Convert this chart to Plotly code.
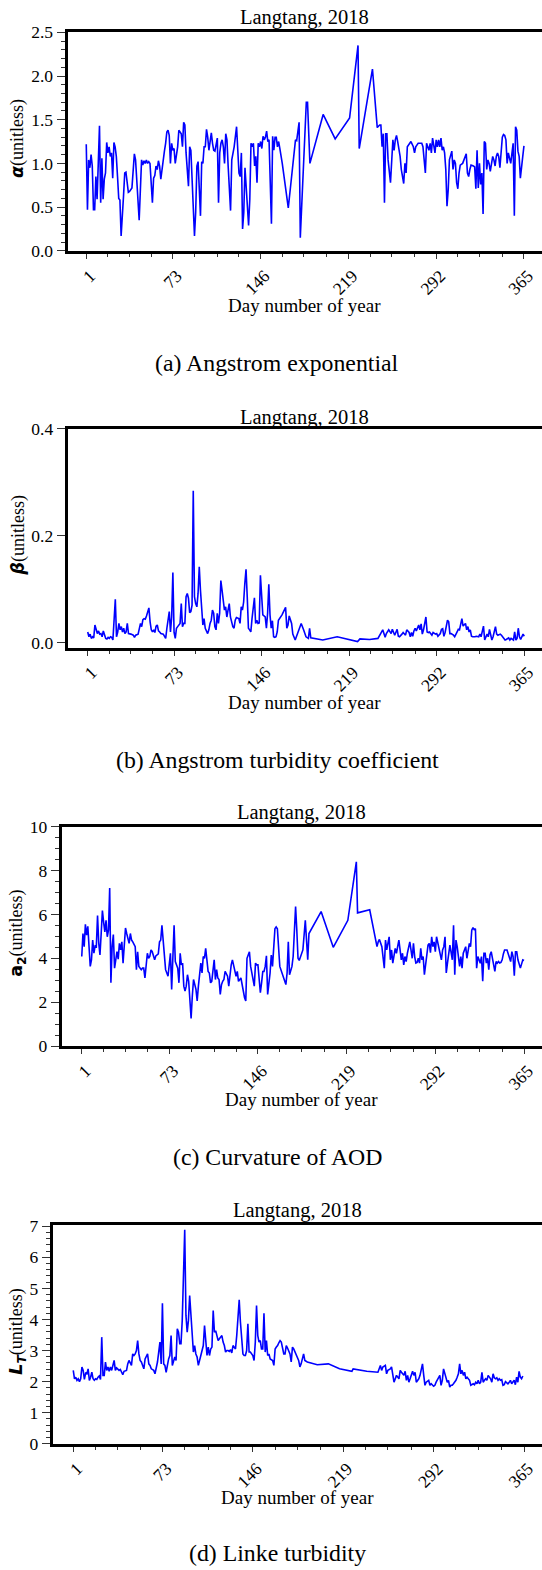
import plotly.graph_objects as go

W, H = 542, 1570
FONT = "Liberation Serif"
SANS = "DejaVu Sans"

# ---------------- data ----------------
day_ticks = [1, 73, 146, 219, 292, 365]
day_tick_text = ["1", "73", "146", "219", "292", "365"]
day_minor = [19, 37, 55, 91, 110, 128, 164, 182, 201, 237, 255, 274, 310, 328, 347]

# (a) Angstrom exponential
days_a = [1, 2, 3, 4, 5, 6, 7, 8, 9, 10,
          11, 12, 13, 14, 15, 16, 17, 18, 19, 20,
          21, 22, 23, 24, 25, 26, 27, 28, 29, 30,
          32, 33, 34, 36, 37, 39, 41, 42, 45, 47,
          48, 49, 50, 51, 52, 53, 54, 56, 57, 58,
          59, 60, 61, 62, 63, 64, 65, 66, 67, 68,
          69, 70, 71, 72, 73, 74, 75, 76, 77, 78,
          80, 81, 82, 83, 84, 86, 87, 88, 89, 91,
          92, 93, 94, 96, 97, 98, 99, 100, 101, 102,
          103, 104, 105, 106, 107, 108, 110, 111, 112, 113,
          114, 115, 116, 117, 118, 119, 121, 122, 124, 126,
          127, 128, 129, 130, 131, 132, 133, 134, 136, 137,
          138, 139, 140, 141, 142, 143, 144, 145, 146, 147,
          148, 149, 150, 151, 152, 153, 155, 156, 157, 158,
          159, 160, 161, 162, 164, 169, 172, 175, 176, 178,
          179, 184, 185, 187, 198, 208, 220, 227, 228, 239,
          243, 245, 246, 247, 248, 249, 250, 251, 252, 254,
          256, 257, 258, 259, 260, 262, 263, 265, 266, 267,
          268, 270, 271, 273, 274, 275, 277, 278, 280, 281,
          283, 284, 286, 287, 288, 289, 291, 292, 293, 294,
          295, 296, 297, 298, 299, 300, 301, 302, 303, 305,
          306, 307, 308, 309, 310, 311, 312, 314, 315, 316,
          317, 318, 319, 320, 321, 323, 324, 325, 326, 327,
          328, 329, 330, 331, 332, 333, 334, 335, 336, 337,
          339, 340, 341, 342, 343, 344, 345, 347, 348, 349,
          350, 351, 352, 354, 355, 356, 357, 358, 359, 360,
          361, 362, 364, 365]
alpha = [1.22, 0.47, 1.04, 0.95, 1.10, 0.97, 0.47, 0.47, 0.85, 0.59,
         1.00, 1.43, 0.55, 1.06, 0.59, 0.82, 0.89, 1.24, 1.12, 1.19,
         1.08, 1.12, 0.83, 1.24, 1.19, 1.08, 0.85, 0.60, 0.58, 0.17,
         0.63, 0.89, 0.90, 0.67, 0.68, 0.72, 1.11, 1.04, 0.35, 1.04,
         0.98, 1.03, 1.00, 1.04, 1.00, 1.02, 1.00, 0.55, 0.83, 0.86,
         0.97, 0.93, 1.03, 0.97, 0.82, 0.95, 1.04, 1.14, 1.23, 1.36,
         1.38, 1.32, 1.00, 1.23, 1.15, 1.17, 1.00, 1.08, 1.19, 1.38,
         1.34, 1.19, 1.47, 1.44, 1.12, 0.74, 1.19, 1.15, 0.78, 0.17,
         0.44, 0.97, 1.02, 0.40, 1.02, 1.00, 1.19, 1.19, 1.39, 1.30,
         1.15, 1.27, 1.35, 1.23, 1.15, 1.14, 1.29, 0.55, 1.12, 1.23,
         1.27, 1.19, 1.00, 1.34, 1.27, 0.97, 0.46, 1.04, 1.19, 1.42,
         1.08, 0.89, 0.85, 1.12, 0.25, 0.44, 0.95, 0.68, 0.29, 0.59,
         1.23, 1.19, 1.23, 0.97, 1.08, 0.78, 1.23, 1.19, 1.25, 1.17,
         1.31, 1.27, 1.30, 1.37, 1.25, 1.27, 0.31, 1.31, 1.15, 1.30,
         1.30, 1.19, 1.25, 1.17, 1.00, 0.49, 0.89, 1.27, 1.26, 1.47,
         0.15, 1.70, 1.70, 1.00, 1.56, 1.28, 1.52, 2.35, 1.17, 2.08,
         1.41, 1.44, 1.44, 1.19, 1.34, 0.55, 1.34, 1.34, 1.04, 0.78,
         1.27, 1.15, 1.27, 1.32, 1.25, 1.08, 0.93, 0.77, 1.00, 0.89,
         1.19, 1.23, 1.25, 1.19, 1.12, 1.19, 1.23, 1.23, 1.23, 1.19,
         0.89, 1.23, 1.15, 1.23, 1.12, 1.29, 1.12, 1.27, 1.19, 1.27,
         1.19, 1.29, 1.15, 1.19, 1.12, 0.93, 0.51, 0.70, 1.04, 1.14,
         0.93, 1.04, 1.00, 0.78, 0.71, 0.89, 0.98, 1.00, 1.04, 1.08,
         1.11, 0.89, 0.85, 0.93, 0.98, 0.97, 0.96, 0.71, 1.15, 0.72,
         1.00, 0.76, 0.89, 0.42, 1.25, 1.23, 0.93, 1.04, 1.00, 0.91,
         1.08, 1.04, 0.97, 1.08, 1.12, 1.08, 0.95, 1.30, 1.33, 1.32,
         1.27, 1.00, 1.12, 1.00, 1.14, 1.23, 0.40, 1.42, 1.38, 1.14,
         1.08, 0.83, 1.08, 1.20]

# (b) Angstrom turbidity coefficient
days_b = [1, 2, 3, 4, 5, 6, 7, 8, 9, 10,
          11, 12, 13, 14, 16, 17, 18, 19, 20, 21,
          22, 24, 25, 26, 27, 28, 29, 30, 31, 32,
          33, 34, 35, 37, 39, 40, 41, 43, 45, 46,
          47, 48, 49, 50, 52, 53, 54, 55, 56, 57,
          58, 59, 60, 61, 62, 64, 65, 66, 67, 68,
          69, 70, 71, 72, 73, 74, 75, 76, 78, 79,
          80, 81, 82, 83, 84, 85, 86, 87, 88, 89,
          90, 91, 92, 93, 94, 95, 96, 97, 98, 99,
          101, 102, 103, 104, 105, 106, 107, 108, 109, 110,
          111, 112, 113, 115, 116, 117, 118, 119, 120, 121,
          122, 123, 124, 125, 127, 128, 129, 130, 131, 132,
          133, 134, 135, 136, 137, 138, 140, 141, 142, 143,
          144, 145, 146, 147, 149, 150, 151, 152, 153, 154,
          155, 156, 157, 158, 159, 160, 163, 166, 167, 168,
          169, 171, 172, 174, 179, 180, 181, 183, 185, 186,
          187, 197, 209, 226, 228, 236, 243, 247, 249, 250,
          252, 254, 255, 257, 259, 260, 261, 263, 264, 266,
          267, 269, 270, 271, 272, 273, 274, 275, 277, 278,
          279, 280, 281, 283, 284, 285, 286, 288, 289, 291,
          292, 293, 295, 296, 297, 298, 299, 301, 302, 303,
          304, 306, 307, 309, 310, 311, 313, 314, 316, 317,
          318, 319, 320, 321, 322, 324, 325, 327, 328, 329,
          331, 332, 334, 335, 336, 338, 339, 341, 342, 343,
          345, 346, 347, 349, 350, 352, 353, 354, 356, 357,
          358, 359, 360, 361, 362, 364, 365]
beta = [0.020, 0.011, 0.016, 0.008, 0.011, 0.009, 0.033, 0.024, 0.017, 0.022,
        0.016, 0.017, 0.011, 0.022, 0.008, 0.007, 0.010, 0.008, 0.011, 0.010,
        0.005, 0.081, 0.011, 0.020, 0.036, 0.024, 0.030, 0.020, 0.027, 0.017,
        0.020, 0.036, 0.017, 0.016, 0.014, 0.010, 0.014, 0.016, 0.036, 0.030,
        0.043, 0.045, 0.044, 0.050, 0.065, 0.039, 0.024, 0.020, 0.024, 0.019,
        0.031, 0.033, 0.022, 0.020, 0.017, 0.016, 0.013, 0.008, 0.027, 0.039,
        0.058, 0.020, 0.048, 0.131, 0.019, 0.008, 0.027, 0.030, 0.036, 0.073,
        0.030, 0.036, 0.036, 0.086, 0.092, 0.083, 0.056, 0.058, 0.070, 0.284,
        0.086, 0.073, 0.067, 0.092, 0.142, 0.098, 0.061, 0.033, 0.045, 0.027,
        0.017, 0.024, 0.036, 0.042, 0.061, 0.055, 0.030, 0.024, 0.055, 0.036,
        0.055, 0.116, 0.098, 0.061, 0.067, 0.048, 0.061, 0.073, 0.048, 0.036,
        0.030, 0.027, 0.042, 0.047, 0.045, 0.036, 0.067, 0.061, 0.076, 0.111,
        0.137, 0.086, 0.027, 0.024, 0.020, 0.045, 0.084, 0.036, 0.042, 0.036,
        0.037, 0.126, 0.092, 0.052, 0.048, 0.027, 0.055, 0.109, 0.052, 0.027,
        0.041, 0.011, 0.010, 0.011, 0.020, 0.042, 0.052, 0.066, 0.027, 0.033,
        0.050, 0.036, 0.016, 0.005, 0.036, 0.031, 0.024, 0.011, 0.008, 0.027,
        0.009, 0.005, 0.011, 0.002, 0.007, 0.006, 0.008, 0.024, 0.010, 0.017,
        0.024, 0.017, 0.025, 0.014, 0.025, 0.012, 0.011, 0.016, 0.019, 0.014,
        0.024, 0.019, 0.011, 0.019, 0.012, 0.022, 0.027, 0.022, 0.033, 0.024,
        0.035, 0.016, 0.024, 0.048, 0.020, 0.019, 0.020, 0.014, 0.019, 0.016,
        0.017, 0.012, 0.017, 0.025, 0.026, 0.012, 0.019, 0.042, 0.039, 0.017,
        0.017, 0.014, 0.011, 0.020, 0.025, 0.024, 0.045, 0.031, 0.036, 0.024,
        0.030, 0.020, 0.024, 0.012, 0.011, 0.011, 0.012, 0.011, 0.016, 0.011,
        0.031, 0.005, 0.016, 0.011, 0.025, 0.005, 0.011, 0.030, 0.016, 0.014,
        0.016, 0.014, 0.011, 0.005, 0.006, 0.009, 0.005, 0.008, 0.005, 0.020,
        0.005, 0.008, 0.027, 0.011, 0.006, 0.016, 0.012]

# (c) Curvature of AOD
days_c = [1, 2, 3, 4, 5, 6, 7, 8, 9, 10,
          11, 12, 13, 14, 15, 16, 17, 18, 19, 20,
          21, 22, 23, 24, 25, 26, 27, 28, 29, 30,
          31, 32, 33, 34, 35, 36, 37, 38, 39, 40,
          41, 42, 43, 44, 45, 46, 47, 48, 50, 51,
          52, 53, 54, 55, 56, 57, 58, 59, 61, 62,
          63, 64, 65, 66, 67, 68, 69, 70, 72, 73,
          74, 75, 76, 77, 78, 79, 80, 81, 82, 83,
          84, 85, 86, 87, 88, 89, 91, 92, 93, 95,
          96, 97, 98, 99, 100, 101, 102, 103, 104, 105,
          106, 107, 108, 110, 111, 112, 113, 114, 115, 116,
          117, 118, 119, 121, 122, 123, 124, 125, 126, 127,
          128, 129, 130, 132, 133, 134, 135, 136, 137, 138,
          139, 140, 141, 143, 144, 145, 146, 147, 148, 149,
          150, 151, 152, 153, 154, 156, 157, 158, 159, 160,
          161, 162, 164, 166, 168, 169, 170, 171, 172, 174,
          175, 176, 177, 178, 179, 180, 183, 185, 187, 188,
          198, 208, 220, 227, 228, 238, 244, 245, 246, 248,
          250, 251, 252, 253, 254, 255, 256, 257, 259, 260,
          262, 263, 264, 265, 266, 267, 268, 269, 270, 271,
          273, 274, 275, 276, 277, 278, 279, 280, 281, 282,
          283, 285, 286, 287, 288, 289, 290, 291, 292, 293,
          295, 296, 297, 298, 299, 300, 301, 302, 303, 304,
          306, 307, 308, 309, 310, 311, 312, 313, 314, 315,
          317, 318, 319, 320, 321, 322, 323, 324, 325, 326,
          327, 329, 330, 331, 332, 333, 334, 335, 336, 337,
          338, 340, 341, 342, 343, 344, 345, 346, 347, 348,
          349, 351, 352, 353, 354, 355, 356, 357, 358, 359,
          360, 362, 363, 364, 365]
a2 = [4.08, 5.13, 4.53, 5.55, 5.05, 5.46, 4.53, 3.63, 3.93, 4.83,
      4.23, 4.56, 4.53, 5.95, 4.68, 4.15, 5.13, 6.18, 5.65, 5.20,
      5.73, 4.98, 5.28, 7.20, 2.88, 4.53, 5.08, 3.55, 3.93, 4.30,
      3.96, 4.68, 4.38, 4.75, 3.78, 4.83, 5.38, 5.13, 4.83, 4.68,
      5.13, 4.83, 4.75, 4.60, 4.53, 3.48, 4.30, 3.63, 3.48, 3.55,
      3.55, 3.10, 3.78, 4.23, 4.00, 4.08, 4.38, 4.30, 3.93, 4.11,
      4.15, 4.20, 4.75, 4.83, 5.50, 4.83, 3.78, 3.48, 3.18, 3.93,
      4.23, 2.58, 4.53, 5.50, 3.85, 3.70, 3.55, 2.88, 4.23, 3.70,
      3.78, 2.73, 2.50, 2.73, 3.25, 2.95, 1.26, 2.28, 3.03, 2.58,
      2.05, 2.73, 3.25, 3.78, 3.33, 4.08, 4.00, 4.45, 3.93, 3.40,
      3.33, 2.88, 2.95, 3.93, 3.03, 3.48, 3.10, 3.03, 2.35, 2.80,
      2.95, 3.03, 3.40, 3.18, 2.73, 3.33, 3.70, 3.93, 3.63, 3.33,
      3.18, 3.40, 2.95, 3.10, 2.73, 2.58, 2.20, 2.05, 4.00, 4.15,
      4.30, 3.63, 3.33, 2.73, 3.78, 3.70, 3.70, 2.80, 2.43, 2.88,
      3.40, 3.40, 3.63, 4.11, 2.35, 3.33, 4.15, 3.63, 4.68, 5.35,
      5.43, 5.35, 3.63, 3.33, 3.03, 2.80, 3.33, 4.75, 3.25, 3.63,
      4.08, 4.98, 6.36, 5.28, 4.00, 3.90, 4.38, 5.73, 3.93, 5.13,
      6.13, 4.50, 5.73, 8.40, 6.07, 6.21, 4.53, 4.75, 4.86, 4.53,
      3.55, 4.83, 4.38, 4.68, 4.98, 3.93, 4.38, 3.78, 4.45, 4.23,
      4.83, 4.38, 3.93, 4.23, 3.70, 4.08, 3.85, 4.23, 4.53, 4.75,
      4.00, 4.68, 4.08, 3.78, 3.81, 4.00, 3.78, 4.45, 3.93, 4.08,
      3.25, 4.23, 4.60, 4.68, 4.26, 4.98, 4.53, 4.75, 4.30, 4.98,
      4.38, 4.23, 3.93, 4.38, 4.53, 4.98, 3.33, 3.78, 4.23, 4.60,
      3.93, 5.50, 3.25, 4.83, 4.53, 4.08, 3.63, 4.08, 3.55, 4.23,
      4.53, 4.00, 4.38, 4.68, 4.53, 5.28, 5.40, 5.31, 5.35, 3.55,
      4.08, 3.78, 4.08, 2.95, 4.23, 4.23, 3.78, 4.00, 3.48, 4.15,
      4.30, 3.78, 3.40, 3.85, 3.78, 3.85, 3.78, 3.81, 3.93, 4.20,
      4.38, 4.38, 4.23, 4.08, 3.85, 4.30, 4.08, 3.21, 4.30, 4.30,
      3.93, 3.55, 3.70, 3.93, 3.90]

# (d) Linke turbidity
days_d = [1, 2, 3, 4, 5, 6, 7, 8, 9, 10,
          11, 12, 13, 14, 15, 16, 17, 18, 19, 20,
          21, 22, 23, 24, 25, 26, 27, 28, 29, 30,
          31, 32, 34, 35, 36, 37, 38, 39, 40, 41,
          42, 43, 44, 45, 46, 48, 49, 50, 51, 52,
          53, 54, 55, 56, 57, 58, 59, 60, 61, 62,
          63, 64, 66, 67, 68, 69, 70, 71, 72, 73,
          74, 75, 76, 77, 78, 79, 80, 81, 83, 84,
          85, 86, 87, 88, 89, 91, 92, 93, 94, 95,
          96, 97, 98, 99, 100, 101, 102, 104, 105, 106,
          107, 108, 109, 110, 111, 112, 113, 114, 115, 116,
          118, 119, 120, 121, 122, 123, 124, 125, 126, 127,
          128, 129, 130, 132, 133, 134, 135, 136, 137, 138,
          139, 140, 141, 142, 143, 144, 146, 147, 148, 149,
          150, 151, 152, 153, 154, 155, 156, 157, 158, 159,
          160, 161, 162, 163, 164, 165, 166, 167, 168, 169,
          171, 172, 173, 174, 175, 176, 177, 178, 179, 180,
          181, 183, 184, 185, 187, 188, 190, 198, 207, 216,
          226, 227, 238, 247, 249, 250, 251, 253, 254, 255,
          257, 258, 260, 261, 262, 264, 265, 266, 268, 269,
          270, 271, 272, 273, 274, 275, 276, 277, 278, 280,
          281, 282, 283, 284, 285, 286, 288, 289, 290, 292,
          293, 294, 296, 297, 298, 299, 300, 301, 302, 303,
          304, 305, 306, 307, 308, 310, 311, 312, 313, 314,
          315, 316, 317, 318, 319, 320, 321, 322, 324, 325,
          326, 327, 328, 329, 330, 331, 332, 333, 334, 335,
          336, 338, 339, 340, 341, 342, 343, 344, 345, 346,
          347, 348, 349, 350, 352, 353, 354, 355, 356, 357,
          358, 359, 360, 361, 362, 363, 364]
linke = [2.36, 2.09, 2.14, 2.04, 2.09, 2.00, 2.09, 2.47, 2.36, 2.07,
         2.27, 2.25, 2.41, 2.04, 2.14, 2.30, 2.09, 2.04, 2.09, 2.07,
         2.14, 2.18, 2.07, 3.43, 2.20, 2.20, 2.63, 2.36, 2.47, 2.33,
         2.47, 2.36, 2.68, 2.36, 2.44, 2.41, 2.36, 2.39, 2.30, 2.22,
         2.33, 2.36, 2.36, 2.57, 2.68, 2.52, 2.89, 2.84, 2.89, 3.00,
         3.32, 2.89, 2.68, 2.63, 2.52, 2.41, 2.73, 2.84, 2.89, 2.57,
         2.52, 2.41, 2.36, 2.25, 2.41, 2.63, 2.95, 3.27, 2.57, 4.52,
         2.57, 2.52, 2.30, 2.57, 2.73, 2.84, 3.48, 2.52, 2.79, 2.68,
         3.70, 3.59, 3.22, 3.22, 3.97, 6.89, 4.13, 3.59, 3.97, 4.77,
         4.13, 3.27, 2.95, 3.16, 2.89, 2.79, 2.52, 2.84, 3.05, 3.16,
         3.80, 3.27, 2.84, 3.11, 2.84, 3.05, 3.11, 4.29, 3.59, 3.64,
         3.32, 3.38, 3.43, 3.48, 3.27, 3.16, 2.95, 3.00, 3.00, 2.97,
         3.03, 2.92, 3.16, 3.05, 3.48, 4.02, 4.63, 3.91, 3.48, 2.89,
         2.84, 2.84, 3.00, 3.86, 2.95, 2.95, 2.84, 2.68, 3.27, 4.45,
         3.48, 3.27, 3.32, 3.05, 3.05, 4.20, 2.95, 3.32, 2.84, 2.89,
         2.73, 2.71, 2.68, 2.52, 3.05, 3.11, 3.16, 3.25, 3.32, 3.27,
         2.89, 2.89, 3.16, 3.08, 3.00, 2.89, 2.63, 3.11, 3.05, 2.95,
         2.84, 2.68, 2.47, 2.57, 2.89, 2.68, 2.63, 2.54, 2.57, 2.41,
         2.33, 2.41, 2.33, 2.30, 2.52, 2.36, 2.47, 2.52, 2.25, 2.36,
         2.41, 2.47, 1.98, 2.09, 2.20, 2.09, 2.36, 2.30, 2.20, 2.33,
         2.04, 2.20, 1.98, 2.09, 2.25, 2.33, 2.20, 2.30, 1.98, 2.09,
         2.20, 2.36, 2.57, 2.20, 1.88, 1.98, 2.04, 1.88, 1.93, 1.85,
         1.88, 1.98, 2.14, 2.20, 1.88, 2.04, 2.41, 2.25, 2.14, 1.98,
         2.04, 1.82, 1.88, 1.88, 1.93, 2.04, 2.14, 2.25, 2.57, 2.25,
         2.36, 2.20, 2.30, 2.09, 2.14, 2.09, 2.04, 1.88, 1.93, 1.90,
         1.98, 1.93, 2.04, 1.93, 1.98, 2.30, 1.98, 2.04, 2.09, 2.04,
         2.20, 2.09, 1.98, 2.25, 2.12, 2.09, 2.12, 2.04, 2.09, 2.04,
         2.06, 1.88, 1.90, 2.00, 1.93, 1.98, 2.04, 1.93, 2.00, 2.04,
         1.90, 2.14, 1.98, 2.33, 2.14, 2.09, 2.18]


def ylabel(symbol):
    """Bold sans symbol followed by a serif '(unitless)'."""
    return (f'<span style="font-family:{SANS};font-size:17.5px">{symbol}</span>'
            f'<span style="font-family:{FONT};font-size:18px">(unitless)</span>')


# Panel frames in pixels: left edge, top, bottom of each plotting area
panels = [
    dict(x=days_a, y=alpha, left=67.5, top=32.3, bottom=250.8,
         xrange=[-14.6, 380.0], yrange=[0, 2.5], dtick=0.5, minor=0.1, fmt=".1f",
         ylabel=ylabel("<b><i>α</i></b>"),
         title_y=18, xlabel_y=305, caption_y=363, caption="(a) Angstrom exponential"),
    dict(x=days_b, y=beta, left=67.7, top=428.5, bottom=647.5,
         xrange=[-15.7, 379.8], yrange=[-0.009, 0.4001], dtick=0.2, minor=None, fmt=".1f",
         ylabel=ylabel("<b><i>β</i></b>"),
         title_y=417, xlabel_y=702, caption_y=760, caption="(b) Angstrom turbidity coefficient"),
    dict(x=days_c, y=a2, left=61.7, top=826.7, bottom=1046,
         xrange=[-15.5, 379.8], yrange=[0, 10], dtick=2, minor=0.5, fmt="d",
         ylabel=ylabel("<b>a<sub>2</sub></b>"),
         title_y=812, xlabel_y=1099, caption_y=1157, caption="(c) Curvature of AOD"),
    dict(x=days_d, y=linke, left=52.7, top=1224.7, bottom=1443.7,
         xrange=[-15.6, 379.5], yrange=[0, 7.05], dtick=1, minor=0.2, fmt="d",
         ylabel=ylabel("<b><i>L<sub>T</sub></i></b>"),
         title_y=1210, xlabel_y=1497, caption_y=1553, caption="(d) Linke turbidity"),
]


def fx(px):
    return px / W


def fy(py):
    return 1 - py / H


fig = go.Figure()
annotations = []
layout_axes = {}

for i, p in enumerate(panels, start=1):
    xa = "x" if i == 1 else f"x{i}"
    ya = "y" if i == 1 else f"y{i}"
    fig.add_trace(go.Scatter(x=p["x"], y=p["y"], mode="lines",
                             line=dict(color="#0000FF", width=1.6),
                             xaxis=xa, yaxis=ya, showlegend=False,
                             hoverinfo="skip"))
    xkey = "xaxis" if i == 1 else f"xaxis{i}"
    ykey = "yaxis" if i == 1 else f"yaxis{i}"
    layout_axes[xkey] = dict(
        domain=[fx(p["left"]), 1.0], range=p["xrange"], anchor=ya,
        automargin=False,
        tickmode="array", tickvals=day_ticks, ticktext=day_tick_text,
        tickangle=-45, ticks="outside", ticklen=5, tickwidth=1.2,
        tickcolor="#333", ticklabelshift=4,
        tickfont=dict(family=FONT, size=17.5, color="black"),
        showline=True, linewidth=3, linecolor="black", mirror=True,
        showgrid=False, zeroline=False,
        minor=dict(tickmode="array", tickvals=day_minor, ticks="outside",
                   ticklen=3, tickwidth=1, tickcolor="#333", showgrid=False),
    )
    yax = dict(
        domain=[fy(p["bottom"]), fy(p["top"])], range=p["yrange"], anchor=xa,
        automargin=False,
        tickmode="linear", tick0=0, dtick=p["dtick"], tickformat=p["fmt"],
        ticks="outside", ticklen=8, tickwidth=1.2, tickcolor="#333",
        tickfont=dict(family=FONT, size=17.5, color="black"),
        showline=True, linewidth=3, linecolor="black", mirror=False,
        showgrid=False, zeroline=False,
    )
    if p["minor"]:
        yax["minor"] = dict(dtick=p["minor"], ticks="outside", ticklen=4,
                            tickwidth=1, tickcolor="#333", showgrid=False)
    layout_axes[ykey] = yax

    cx = (p["left"] + W) / 2
    cy = (p["top"] + p["bottom"]) / 2
    annotations += [
        dict(text="Langtang, 2018", x=fx(cx), y=fy(p["title_y"]),
             xref="paper", yref="paper", xanchor="center", yanchor="middle",
             showarrow=False, font=dict(family=FONT, size=20.5, color="black")),
        dict(text="Day number of year", x=fx(cx), y=fy(p["xlabel_y"]),
             xref="paper", yref="paper", xanchor="center", yanchor="middle",
             showarrow=False, font=dict(family=FONT, size=19, color="black")),
        dict(text=p["caption"], x=fx(277), y=fy(p["caption_y"]),
             xref="paper", yref="paper", xanchor="center", yanchor="middle",
             showarrow=False, font=dict(family=FONT, size=23.8, color="black")),
        dict(text=p["ylabel"], x=fx(17.5), y=fy(cy - 3), textangle=-90,
             xref="paper", yref="paper", xanchor="center", yanchor="middle",
             showarrow=False, font=dict(family=FONT, size=18, color="black")),
    ]

fig.update_layout(
    template="none",
    width=W, height=H, margin=dict(l=0, r=0, t=0, b=0, autoexpand=False),
    paper_bgcolor="white", plot_bgcolor="white",
    showlegend=False, annotations=annotations, **layout_axes,
)

fig.write_html("out.html")
